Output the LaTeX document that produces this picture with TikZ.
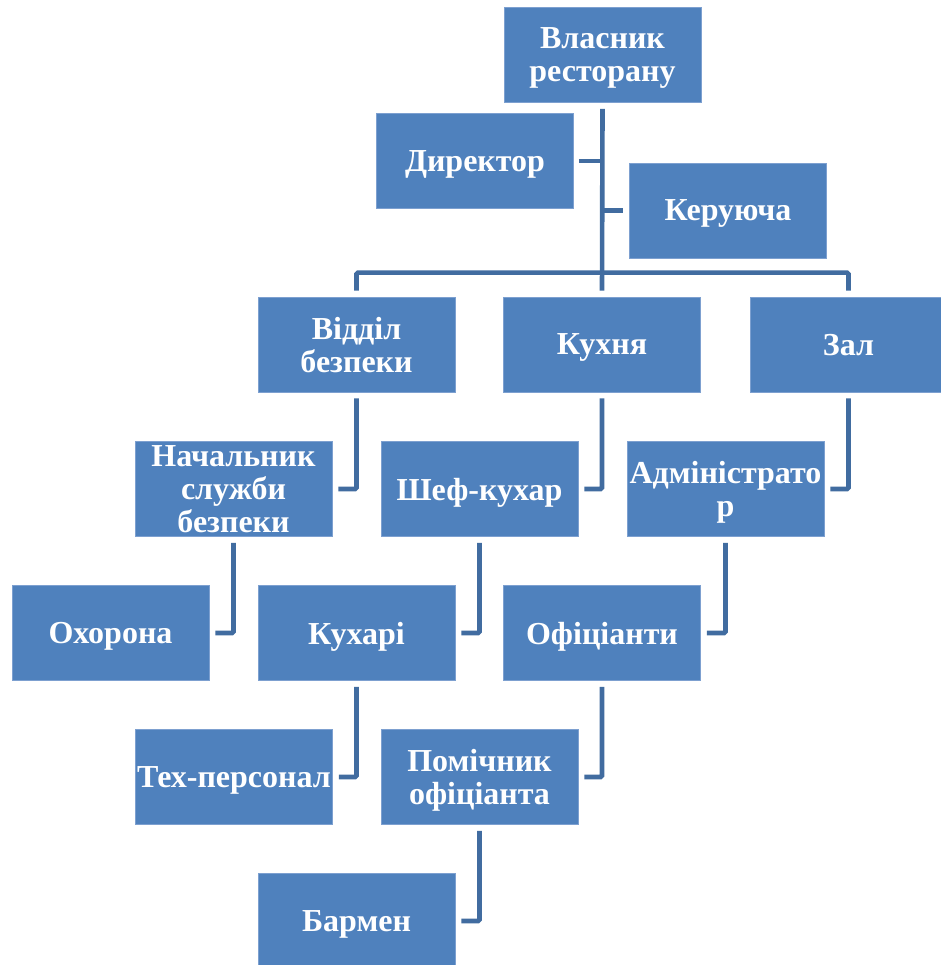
\documentclass[tikz,border=0pt]{standalone}
\usepackage{fontspec}
\setmainfont{Liberation Serif}[BoldFont={Liberation Serif Bold}]
\usepackage{xcolor}
\usetikzlibrary{positioning,calc}
\definecolor{boxblue}{RGB}{79,129,189}
\definecolor{boxedge}{RGB}{125,160,208}
\definecolor{linkblue}{RGB}{65,108,160}
\newcommand\dropdepth{\par\kern-\prevdepth}

\begin{document}
\begin{tikzpicture}[x=1pt,y=-1pt,
    box/.style={rectangle, fill=boxblue, draw=boxedge, line width=0.6pt,
      minimum width=197pt, minimum height=95pt, inner sep=0pt,
      text=white, align=center, text width=197pt,
      font=\bfseries\fontsize{32}{33}\selectfont,
      execute at end node=\dropdepth},
    link/.style={draw=linkblue, line width=4.6pt, rounded corners=1.5pt}]
  % Canvas
  \useasboundingbox (0,0) rectangle (940,965);

  % Top level
  \node[box] (vlasnyk) at (602.5,55) {Власник\\ресторану};
  \node[box] (dyrektor) at (475,161) {Директор};
  \node[box] (keruyucha) at (728,210.5) {Керуюча};

  % Departments
  \node[box] (viddil) at (356.5,344.5) {Відділ\\безпеки};
  \node[box] (kukhnya) at (602,344.5) {Кухня};
  \node[box] (zal) at (848.5,344.5) {Зал};

  % Heads
  \node[box] (nachalnyk) at (233.5,489) {Начальник\\служби\\безпеки};
  \node[box] (shef) at (479.5,489) {Шеф-кухар};
  \node[box] (admin) at (725.5,489) {Адміністрато\\р};

  % Staff
  \node[box] (okhorona) at (110.5,633) {Охорона};
  \node[box] (kukhari) at (356.5,633) {Кухарі};
  \node[box] (ofitsianty) at (602,633) {Офіціанти};
  \node[box] (tekh) at (234,777) {Тех-персонал};
  \node[box] (pomichnyk) at (479.5,777) {Помічник\\офіціанта};
  \node[box] (barmen) at (356.5,921) {Бармен};

  % Trunk from the owner
  \draw[link] ([yshift=-6pt]vlasnyk.south) -- ([yshift=6pt]kukhnya.north);
  \draw[link] ([xshift=5pt]dyrektor.east) -- (dyrektor.east -| vlasnyk.south);
  \draw[link] (keruyucha.west -| vlasnyk.south) -- ([xshift=-6pt]keruyucha.west);

  % Bar over the departments
  \draw[link] ([yshift=6pt]viddil.north) -- ([yshift=24pt]viddil.north)
    -| ([yshift=6pt]zal.north);

  % Hanging branches
  \draw[link] ([yshift=-6pt]viddil.south) |- ([xshift=6pt]nachalnyk.east);
  \draw[link] ([yshift=-6pt]kukhnya.south) |- ([xshift=6pt]shef.east);
  \draw[link] ([yshift=-6pt]zal.south) |- ([xshift=6pt]admin.east);
  \draw[link] ([yshift=-6pt]nachalnyk.south) |- ([xshift=6pt]okhorona.east);
  \draw[link] ([yshift=-6pt]shef.south) |- ([xshift=6pt]kukhari.east);
  \draw[link] ([yshift=-6pt]admin.south) |- ([xshift=6pt]ofitsianty.east);
  \draw[link] ([yshift=-6pt]kukhari.south) |- ([xshift=6pt]tekh.east);
  \draw[link] ([yshift=-6pt]ofitsianty.south) |- ([xshift=6pt]pomichnyk.east);
  \draw[link] ([yshift=-6pt]pomichnyk.south) |- ([xshift=6pt]barmen.east);
\end{tikzpicture}
\end{document}
